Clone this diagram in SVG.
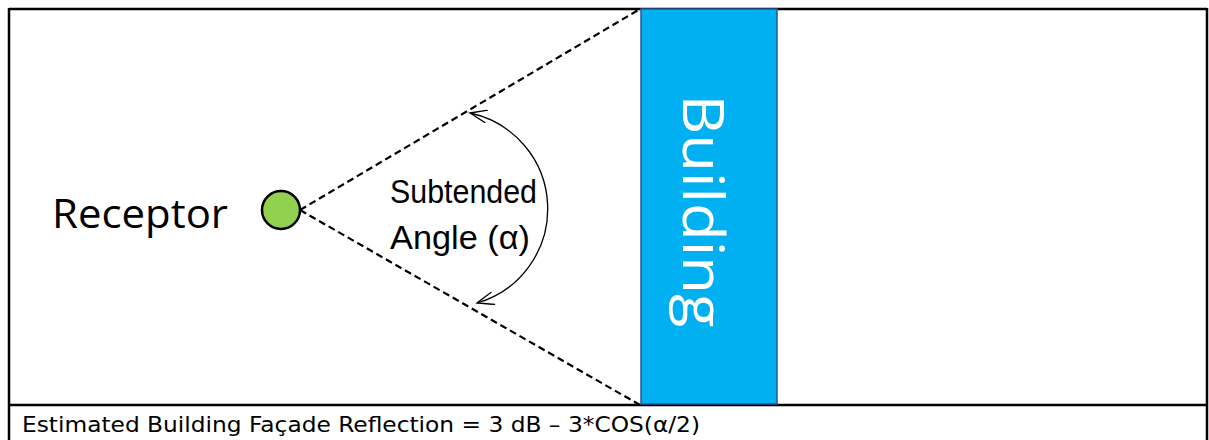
<svg xmlns="http://www.w3.org/2000/svg" width="1209" height="440" viewBox="0 0 1209 440">
<defs>
<style>
.frame{stroke:#000;stroke-width:2.5;fill:none}
.dash{stroke:#000;stroke-width:2.2;stroke-dasharray:7,4;fill:none}
.arc{stroke:#000;stroke-width:1.3;fill:none}
.lbl{font-family:"Liberation Sans",Arial,sans-serif;fill:#000}
</style>
<marker id="open" markerWidth="20" markerHeight="14" refX="18" refY="7" orient="auto-start-reverse" markerUnits="userSpaceOnUse" viewBox="0 0 20 14">
<path d="M1,0.5 L18,7 L1,13.5" fill="none" stroke="#000" stroke-width="1.3"/>
</marker>
</defs>
<rect width="1209" height="440" fill="#fff"/>
<g id="frame">
<line class="frame" x1="9" y1="9" x2="1207" y2="9"/>
<line class="frame" x1="9" y1="8" x2="9" y2="440"/>
<line class="frame" x1="1207" y1="8" x2="1207" y2="440"/>
<line class="frame" x1="9" y1="405" x2="1207" y2="405"/>
</g>
<g id="connectors">
<line class="dash" x1="300" y1="210" x2="640" y2="9"/>
<line class="dash" x1="300" y1="210" x2="640" y2="405"/>
<path class="arc" d="M470,113 A98,98 0 0 1 477,303" marker-start="url(#open)" marker-end="url(#open)"/>
</g>
<g id="building">
<rect x="641" y="9" width="136" height="395" fill="#00B0F0" stroke="#2F5597" stroke-width="1.5"/>
<text transform="translate(683,211) rotate(90)" text-anchor="middle" font-family="'Open Sans','Liberation Sans',sans-serif" font-size="56" textLength="233" lengthAdjust="spacingAndGlyphs" fill="#fff">Building</text>
</g>
<g id="receptor">
<circle cx="281" cy="210" r="19" fill="#92D050" stroke="#000" stroke-width="2.5"/>
<text x="52" y="228" font-family="'Open Sans','Liberation Sans',sans-serif" font-size="40" textLength="176" lengthAdjust="spacingAndGlyphs" fill="#000">Receptor</text>
</g>
<g id="angle-label">
<text class="lbl" transform="translate(390,203) scale(1,1.12)" font-size="30" textLength="147" lengthAdjust="spacingAndGlyphs">Subtended</text>
<text class="lbl" transform="translate(390,249) scale(1,1.12)" font-size="30" textLength="140" lengthAdjust="spacingAndGlyphs">Angle (α)</text>
</g>
<g id="formula">
<text x="22" y="432" font-family="'DejaVu Sans','Liberation Sans',sans-serif" font-size="21" textLength="678" lengthAdjust="spacingAndGlyphs" fill="#000">Estimated Building Façade Reflection = 3 dB – 3*COS(α/2)</text>
</g>
</svg>
